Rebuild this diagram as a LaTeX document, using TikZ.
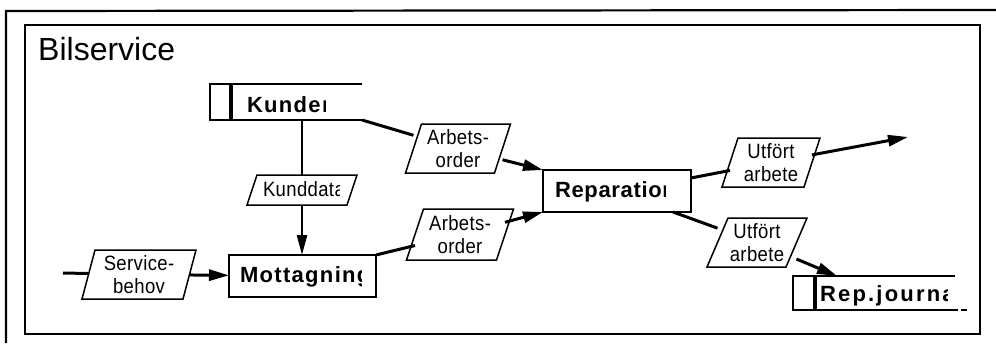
\documentclass[tikz,border=0pt]{standalone}
\usepackage{graphicx}
\usepackage{fontspec}
\setmainfont{Liberation Sans}
\newfontfamily\boxfont[LetterSpace=6]{Liberation Sans}
\newfontfamily\boxfontnarrow[LetterSpace=3]{Liberation Sans}
\newfontfamily\boxfontwide[LetterSpace=10]{Liberation Sans}
\newfontfamily\flowfont[LetterSpace=2]{Liberation Sans}
\usetikzlibrary{arrows.meta,calc}

% flow labels are set a little taller than the font's natural shape
\newcommand\tallline[1]{\scalebox{1}[1.12]{#1}}
% slanted outline drawn around a rectangular flow node: #1 node, #2 half slant
\newcommand\paraoutline[2]{%
  \draw[paraline] ([xshift=#2]#1.north west) -- ([xshift=#2]#1.north east)
    -- ([xshift=-#2]#1.south east) -- ([xshift=-#2]#1.south west) -- cycle;}

\begin{document}
\begin{tikzpicture}[x=1pt,y=-1pt,
  frame/.style={line width=2.2pt},
  boxline/.style={line width=2pt},
  procbox/.style={draw, line width=2pt, rectangle, inner sep=0pt, outer sep=0pt},
  storebox/.style={rectangle, inner sep=0pt, outer sep=0pt},
  boxtext/.style={inner sep=0pt, outer sep=0pt, font=\boxfont\bfseries\fontsize{22}{24}\selectfont},
  flow/.style={rectangle, inner sep=0pt, outer sep=0pt, align=center,
    font=\flowfont\fontsize{18.5}{23.5}\selectfont},
  paraline/.style={line width=1.5pt, line join=miter},
  conn/.style={line width=3pt},
  arr/.style={conn, -{Triangle[length=20pt,width=11pt]}}
]
\useasboundingbox (0,0) rectangle (996,343);

% outer and inner frames
\draw[frame] (6,343) -- (6,11) -- (996,10);
\draw[frame] (25,25) rectangle (980,334);
\node[anchor=base west, inner sep=0pt, font=\fontsize{32}{36}\selectfont] (title) at (38,60) {Bilservice};

% data stores
\node[storebox, minimum width=152pt, minimum height=36pt] (kunde) at (286,102) {};
\draw[boxline] (kunde.north east) -- (kunde.north west) -- (kunde.south west) -- (kunde.south east);
\draw[line width=4pt] ($(kunde.north west)+(21,0)$) -- ($(kunde.south west)+(21,0)$);
\begin{scope}
  \clip (240,86) rectangle (325,119);
  \node[boxtext, anchor=base west] (kundetext) at (247,112) {Kunder};
\end{scope}

\node[storebox, minimum width=162pt, minimum height=34pt] (repj) at (874,293) {};
\draw[boxline] (repj.north east) -- (repj.north west) -- (repj.south west) -- ($(repj.south east)+(3,0)$);
\draw[boxline] ($(repj.south east)+(6,0)$) -- ($(repj.south east)+(12,0)$);
\draw[line width=4pt] ($(repj.north west)+(22,0)$) -- ($(repj.south west)+(22,0)$);
\begin{scope}
  \clip (818,278) rectangle (947,308);
  \node[boxtext, font=\boxfontwide\bfseries\fontsize{22}{24}\selectfont, anchor=base west] (repjtext) at (820,301) {Rep.journal};
\end{scope}

% processes
\node[procbox, minimum width=147pt, minimum height=42pt] (mott) at (302.5,276) {};
\begin{scope}
  \clip (232,258) rectangle (361,294);
  \node[boxtext, anchor=base west] (motttext) at (240,282) {Mottagning};
\end{scope}

\node[procbox, minimum width=148pt, minimum height=42pt] (rep) at (617,191) {};
\begin{scope}
  \clip (546,173) rectangle (665.5,209);
  \node[boxtext, font=\boxfontnarrow\bfseries\fontsize{22}{24}\selectfont, anchor=base west] (reptext) at (555,197) {Reparation};
\end{scope}

% data flows
\node[flow, minimum width=100pt, minimum height=30pt] (kdata) at (302,190) {};
\paraoutline{kdata}{5pt}
\begin{scope}
  \clip (255,177) rectangle (339,203);
  \node[flow, anchor=base west] (kdatatext) at (263,196) {\tallline{Kunddata}};
\end{scope}

\node[flow, minimum width=101pt, minimum height=49pt] (svc) at (139,274.5) {\tallline{Service-}\\\tallline{behov}};
\paraoutline{svc}{6.5pt}
\node[flow, minimum width=89pt, minimum height=49pt] (ao1) at (458,148.5) {\tallline{Arbets-}\\\tallline{order}};
\paraoutline{ao1}{8pt}
\node[flow, minimum width=90pt, minimum height=51pt] (ao2) at (460,234.5) {\tallline{Arbets-}\\\tallline{order}};
\paraoutline{ao2}{8.5pt}
\node[flow, minimum width=82pt, minimum height=49pt] (ua1) at (771,162.5) {\tallline{Utfört}\\\tallline{arbete}};
\paraoutline{ua1}{8pt}
\node[flow, minimum width=79pt, minimum height=49pt] (ua2) at (757,242.5) {\tallline{Utfört}\\\tallline{arbete}};
\paraoutline{ua2}{10.5pt}

% free ends
\coordinate (svcin) at (63,273);
\coordinate (utout) at (908,137);

% connectors
\draw[line width=2.2pt] (kunde.south -| kdata.north) -- (kdata.north);
\draw[line width=2.4pt, -{Triangle[length=20pt,width=10pt]}] (kdata.south) -- (kdata.south |- mott.north);
\draw[conn] (svcin) -- (svc);
\draw[arr] (svc) -- (mott);
\draw[conn] (kunde.south east) -- (ao1);
\draw[arr] (ao1) -- (rep.north west);
\draw[conn] (mott.north east) -- (ao2);
\draw[arr] (ao2) -- (rep.south west);
\draw[conn] ($(rep.north east)+(0,8)$) -- (ua1);
\draw[arr] (ua1) -- (utout);
\draw[conn] ($(rep.south east)+(-18,0)$) -- (ua2);
\draw[arr] (ua2) -- ($(repj.north west)+(44,0)$);
\end{tikzpicture}
\end{document}
